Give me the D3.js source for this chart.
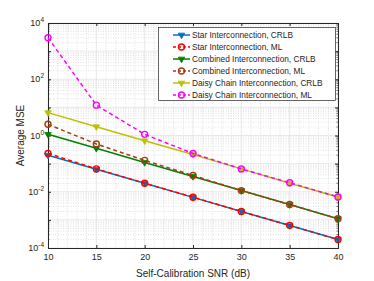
<!DOCTYPE html>
<html><head><meta charset="utf-8">
<script src="https://cdn.jsdelivr.net/npm/d3@7"></script>
<style>body{margin:0;background:#fff}svg{display:block;font-family:"Liberation Sans",Arial,sans-serif}</style>
</head><body><svg id="c" width="374" height="281"></svg>
<script>
const snr = [10, 15, 20, 25, 30, 35, 40];
const starCRLB = [0.2, 0.063, 0.02, 0.0063, 0.002, 0.00063, 0.0002];
const starML = [0.23, 0.065, 0.02, 0.0064, 0.002, 0.00064, 0.0002];
const combCRLB = [1.1, 0.35, 0.11, 0.035, 0.011, 0.0035, 0.0011];
const combML = [2.5, 0.5, 0.13, 0.038, 0.011, 0.0035, 0.0011];
const daisyCRLB = [6.5, 2.05, 0.65, 0.21, 0.065, 0.02, 0.0065];
const daisyML = [3000, 12, 1.1, 0.23, 0.065, 0.021, 0.0065];
const xTicks = [10, 15, 20, 25, 30, 35, 40];
const yTickExp = [-4, -2, 0, 2, 4];
const seriesNames = ["Star Interconnection, CRLB","Star Interconnection, ML","Combined Interconnection, CRLB","Combined Interconnection, ML","Daisy Chain Interconnection, CRLB","Daisy Chain Interconnection, ML"];

const series = [
  {name: seriesNames[0], v: starCRLB, color: "#0072BD", dash: null, mk: "tri"},
  {name: seriesNames[1], v: starML, color: "#FF0000", dash: "4,3", mk: "circ"},
  {name: seriesNames[2], v: combCRLB, color: "#008000", dash: null, mk: "tri"},
  {name: seriesNames[3], v: combML, color: "#A0400F", dash: "4,3", mk: "circ"},
  {name: seriesNames[4], v: daisyCRLB, color: "#BFBF00", dash: null, mk: "tri"},
  {name: seriesNames[5], v: daisyML, color: "#FF00FF", dash: "4,3", mk: "circ"}
];

const L = 48, R = 338, T = 23, B = 248;
const svg = d3.select("#c");
const x = d3.scaleLinear().domain([10, 40]).range([L, R]);
const y = d3.scaleLog().domain([1e-4, 1e4]).range([B, T]);

// minor grid
const g = svg.append("g");
for (let v = 10; v <= 40; v += 1) {
  if (v % 5 === 0) continue;
  g.append("line").attr("x1", x(v)).attr("x2", x(v)).attr("y1", T).attr("y2", B)
    .attr("stroke", "#d0d0d0").attr("stroke-width", 0.6).attr("stroke-dasharray", "1,1.5");
}
for (let e = -4; e < 4; e++) {
  for (let m = 2; m <= 9; m++) {
    const yy = y(m * Math.pow(10, e));
    g.append("line").attr("x1", L).attr("x2", R).attr("y1", yy).attr("y2", yy)
      .attr("stroke", "#d0d0d0").attr("stroke-width", 0.6).attr("stroke-dasharray", "1,1.5");
  }
}
// major grid
xTicks.forEach(v => g.append("line").attr("x1", x(v)).attr("x2", x(v)).attr("y1", T).attr("y2", B).attr("stroke", "#e0e0e0").attr("stroke-width", 0.7));
for (let e = -4; e <= 4; e++) {
  g.append("line").attr("x1", L).attr("x2", R).attr("y1", y(Math.pow(10, e))).attr("y2", y(Math.pow(10, e))).attr("stroke", "#e0e0e0").attr("stroke-width", 0.7);
}

// axes
const ax = d3.axisBottom(x).tickValues(xTicks).tickSize(-3).tickPadding(6).tickFormat(d3.format("d"));
const gx = svg.append("g").attr("transform", `translate(0,${B})`).call(ax);
gx.select(".domain").attr("stroke", "#262626");
gx.selectAll(".tick line").attr("stroke", "#262626");
gx.selectAll("text").attr("fill", "#262626").attr("font-size", 9).attr("font-family", "Liberation Sans, Arial, sans-serif");
const gxt = svg.append("g").attr("transform", `translate(0,${T})`).call(d3.axisTop(x).tickValues(xTicks).tickSize(-3).tickFormat(""));
gxt.select(".domain").attr("stroke", "#262626");
gxt.selectAll(".tick line").attr("stroke", "#262626");

const allY = [];
for (let e = -4; e <= 4; e++) { allY.push(Math.pow(10, e)); }
const gy = svg.append("g").attr("transform", `translate(${L},0)`).call(d3.axisLeft(y).tickValues(allY).tickSize(-3).tickFormat(""));
gy.select(".domain").attr("stroke", "#262626");
gy.selectAll(".tick line").attr("stroke", "#262626");
const gyr = svg.append("g").attr("transform", `translate(${R},0)`).call(d3.axisRight(y).tickValues(allY).tickSize(-3).tickFormat(""));
gyr.select(".domain").attr("stroke", "#262626");
gyr.selectAll(".tick line").attr("stroke", "#262626");
// minor y ticks
const minorY = [];
for (let e = -4; e < 4; e++) for (let m = 2; m <= 9; m++) minorY.push(m * Math.pow(10, e));
minorY.forEach(v => {
  svg.append("line").attr("x1", L).attr("x2", L + 1.6).attr("y1", y(v)).attr("y2", y(v)).attr("stroke", "#262626").attr("stroke-width", 0.6);
  svg.append("line").attr("x1", R).attr("x2", R - 1.6).attr("y1", y(v)).attr("y2", y(v)).attr("stroke", "#262626").attr("stroke-width", 0.6);
});
// y tick labels
yTickExp.forEach(e => {
  const t = svg.append("text").attr("x", L - 4).attr("y", y(Math.pow(10, e)) + 3).attr("text-anchor", "end")
    .attr("font-size", 9).attr("fill", "#262626");
  t.append("tspan").text("10");
  t.append("tspan").attr("dy", -4).attr("font-size", 6.5).text(String(e));
});

svg.append("text").attr("x", (L + R) / 2).attr("y", 277).attr("text-anchor", "middle").attr("font-size", 10).attr("fill", "#262626").text("Self-Calibration SNR (dB)");
svg.append("text").attr("transform", `translate(24,${(T + B) / 2}) rotate(-90)`).attr("text-anchor", "middle").attr("font-size", 10).attr("fill", "#262626").text("Average MSE");

// lines
const line = d3.line().x(d => x(d[0])).y(d => y(d[1]));
const tri = d3.symbol().type(d3.symbolTriangle).size(18);
function marker(sel, s, cx, cy) {
  if (s.mk === "tri") {
    sel.append("path").attr("d", tri()).attr("transform", `translate(${cx},${cy}) rotate(180)`).attr("fill", s.color).attr("stroke", s.color).attr("stroke-width", 0.8);
  } else {
    sel.append("circle").attr("cx", cx).attr("cy", cy).attr("r", 3).attr("fill", "none").attr("stroke", s.color).attr("stroke-width", 1.4);
  }
}
series.forEach(s => {
  const pts = snr.map((v, i) => [v, s.v[i]]);
  const gs = svg.append("g");
  gs.append("path").attr("d", line(pts)).attr("fill", "none").attr("stroke", s.color).attr("stroke-width", 1.5).attr("stroke-dasharray", s.dash);
  pts.forEach(p => marker(gs, s, x(p[0]), y(p[1])));
});

// legend
const lg = svg.append("g");
lg.append("rect").attr("x", 158.5).attr("y", 27.5).attr("width", 177).attr("height", 73).attr("fill", "#fff").attr("stroke", "#262626").attr("stroke-width", 0.7);
series.forEach((s, i) => {
  const yy = 35 + i * 12;
  lg.append("line").attr("x1", 173).attr("x2", 190).attr("y1", yy).attr("y2", yy).attr("stroke", s.color).attr("stroke-width", 1.5).attr("stroke-dasharray", s.dash ? "3,2" : null);
  marker(lg, s, 181.5, yy);
  lg.append("text").attr("x", 192).attr("y", yy + 3).attr("font-size", 8.3).attr("fill", "#262626").text(s.name);
});
</script></body></html>
